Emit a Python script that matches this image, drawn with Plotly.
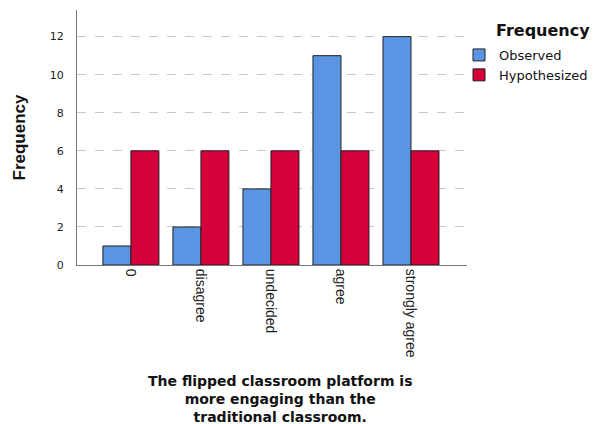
import plotly.graph_objects as go

# Response categories and frequencies
categories = ["0", "disagree", "undecided", "agree", "strongly agree"]
observed = [1, 2, 4, 11, 12]
hypothesized = [6, 6, 6, 6, 6]
y_ticks = [0, 2, 4, 6, 8, 10, 12]
title_lines = ["The flipped classroom platform is", "more engaging than the", "traditional classroom."]

x_positions = list(range(len(categories)))

W, H = 611, 424
L, R, T, B = 77, 144, 10, 159
plot_w = W - L - R
plot_h = H - T - B

def px_(pix):
    # pixel column -> paper x
    return (pix - L) / plot_w

def py(pix):
    # pixel row -> paper y
    return (H - B - pix) / plot_h

fig = go.Figure()

fig.add_trace(go.Bar(
    x=x_positions,
    y=observed,
    name="Observed",
    marker=dict(color="#5A94E2", line=dict(color="#222222", width=1)),
))
fig.add_trace(go.Bar(
    x=x_positions,
    y=hypothesized,
    name="Hypothesized",
    marker=dict(color="#D5003A", line=dict(color="#222222", width=1)),
))

wide = "DejaVu Sans, Verdana, sans-serif"
narrow = "Liberation Sans Narrow, Arial Narrow, Liberation Sans, sans-serif"

annotations = [
    dict(
        text="<b>Frequency</b>",
        x=px_(19), y=0.5, xref="paper", yref="paper",
        xanchor="center", yanchor="middle",
        textangle=-90, showarrow=False,
        font=dict(family=narrow, size=17, color="#111111"),
    ),
    dict(
        text="<b>Frequency</b>",
        x=px_(543), y=py(30), xref="paper", yref="paper",
        xanchor="center", yanchor="middle", showarrow=False,
        font=dict(family=wide, size=16, color="#111111"),
    ),
    dict(
        text="<b>" + "<br>".join(title_lines) + "</b>",
        x=px_(280), y=py(399), xref="paper", yref="paper",
        xanchor="center", yanchor="middle", showarrow=False,
        font=dict(family=wide, size=14, color="#111111"),
    ),
]

fig.update_layout(
    width=W,
    height=H,
    margin=dict(l=L, r=R, t=T, b=B, autoexpand=False),
    paper_bgcolor="white",
    plot_bgcolor="white",
    barmode="group",
    bargap=0.2,
    bargroupgap=0,
    font=dict(family="Liberation Sans, Arial, sans-serif", color="#222222", size=12),
    xaxis=dict(
        range=[-0.77, 4.8],
        tickmode="array",
        tickvals=x_positions,
        ticktext=categories,
        tickangle=90,
        showline=True,
        linecolor="#777777",
        linewidth=1,
        ticks="",
        showgrid=False,
        zeroline=False,
        automargin=False,
        tickfont=dict(family=narrow, size=14, color="#222222"),
    ),
    yaxis=dict(
        range=[0, 13.4],
        tickmode="array",
        tickvals=y_ticks,
        showline=True,
        linecolor="#777777",
        linewidth=1,
        ticks="",
        ticklabelstandoff=10,
        showgrid=True,
        gridcolor="#c8c8c8",
        griddash="dash",
        zeroline=False,
        automargin=False,
        tickfont=dict(family=wide, size=11, color="#222222"),
    ),
    legend=dict(
        x=px_(459),
        y=py(40),
        xanchor="left",
        yanchor="top",
        font=dict(family=wide, size=13, color="#111111"),
        itemwidth=30,
        tracegroupgap=0,
        bgcolor="rgba(0,0,0,0)",
    ),
    annotations=annotations,
)

# drop the page's default body margin so the figure sits at the window origin
fig.write_html(
    "out.html",
    config={"displayModeBar": False},
    post_script="document.body.style.margin='0px';",
)
